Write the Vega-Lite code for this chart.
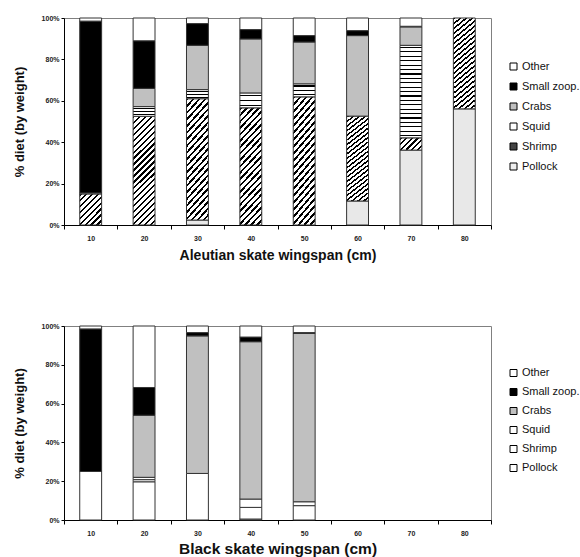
{
  "$schema": "https://vega.github.io/schema/vega-lite/v6.json",
  "padding": {"left": 12, "top": 13, "right": 0, "bottom": 0},
  "spacing": 58,
  "datasets": {
    "aleutian": [
      {"size": "10", "prey": "Shrimp", "pct": 15},
      {"size": "10", "prey": "Squid", "pct": 0.5},
      {"size": "10", "prey": "Small zoop.", "pct": 83},
      {"size": "10", "prey": "Other", "pct": 1.5},
      {"size": "20", "prey": "Shrimp", "pct": 52.5},
      {"size": "20", "prey": "Squid", "pct": 4.7},
      {"size": "20", "prey": "Crabs", "pct": 8.8},
      {"size": "20", "prey": "Small zoop.", "pct": 23},
      {"size": "20", "prey": "Other", "pct": 11},
      {"size": "30", "prey": "Pollock", "pct": 2.4},
      {"size": "30", "prey": "Shrimp", "pct": 58.6},
      {"size": "30", "prey": "Squid", "pct": 4.4},
      {"size": "30", "prey": "Crabs", "pct": 21.4},
      {"size": "30", "prey": "Small zoop.", "pct": 10.5},
      {"size": "30", "prey": "Other", "pct": 2.7},
      {"size": "40", "prey": "Shrimp", "pct": 56.6},
      {"size": "40", "prey": "Squid", "pct": 7.2},
      {"size": "40", "prey": "Crabs", "pct": 26.1},
      {"size": "40", "prey": "Small zoop.", "pct": 4.5},
      {"size": "40", "prey": "Other", "pct": 5.6},
      {"size": "50", "prey": "Shrimp", "pct": 61.9},
      {"size": "50", "prey": "Squid", "pct": 6.3},
      {"size": "50", "prey": "Crabs", "pct": 20.2},
      {"size": "50", "prey": "Small zoop.", "pct": 3.1},
      {"size": "50", "prey": "Other", "pct": 8.5},
      {"size": "60", "prey": "Pollock", "pct": 11.6},
      {"size": "60", "prey": "Shrimp", "pct": 41},
      {"size": "60", "prey": "Crabs", "pct": 38.9},
      {"size": "60", "prey": "Small zoop.", "pct": 2.4},
      {"size": "60", "prey": "Other", "pct": 6.1},
      {"size": "70", "prey": "Pollock", "pct": 36.2},
      {"size": "70", "prey": "Shrimp", "pct": 5.9},
      {"size": "70", "prey": "Squid", "pct": 44.7},
      {"size": "70", "prey": "Crabs", "pct": 8.9},
      {"size": "70", "prey": "Small zoop.", "pct": 0.3},
      {"size": "70", "prey": "Other", "pct": 4.0},
      {"size": "80", "prey": "Pollock", "pct": 56.1},
      {"size": "80", "prey": "Shrimp", "pct": 43.9}
    ],
    "black": [
      {"size": "10", "prey": "Pollock", "pct": 25},
      {"size": "10", "prey": "Small zoop.", "pct": 73.5},
      {"size": "10", "prey": "Other", "pct": 1.5},
      {"size": "20", "prey": "Pollock", "pct": 19.7},
      {"size": "20", "prey": "Shrimp", "pct": 1.1},
      {"size": "20", "prey": "Squid", "pct": 1.2},
      {"size": "20", "prey": "Crabs", "pct": 32},
      {"size": "20", "prey": "Small zoop.", "pct": 14.3},
      {"size": "20", "prey": "Other", "pct": 31.7},
      {"size": "30", "prey": "Pollock", "pct": 24},
      {"size": "30", "prey": "Crabs", "pct": 70.9},
      {"size": "30", "prey": "Small zoop.", "pct": 1.7},
      {"size": "30", "prey": "Other", "pct": 3.4},
      {"size": "40", "prey": "Pollock", "pct": 0.5},
      {"size": "40", "prey": "Shrimp", "pct": 6},
      {"size": "40", "prey": "Squid", "pct": 4.3},
      {"size": "40", "prey": "Crabs", "pct": 81.1},
      {"size": "40", "prey": "Small zoop.", "pct": 2.4},
      {"size": "40", "prey": "Other", "pct": 5.7},
      {"size": "50", "prey": "Pollock", "pct": 7.4},
      {"size": "50", "prey": "Shrimp", "pct": 2},
      {"size": "50", "prey": "Crabs", "pct": 86.8},
      {"size": "50", "prey": "Small zoop.", "pct": 0.4},
      {"size": "50", "prey": "Other", "pct": 3.4}
    ]
  },
  "vconcat": [
    {
      "width": 427,
      "height": 207,
      "data": {"name": "aleutian"},
      "transform": [
        {"calculate": "indexof(['Pollock','Shrimp','Squid','Crabs','Small zoop.','Other'], datum.prey)", "as": "k"}
      ],
      "mark": {"type": "bar", "width": {"band": 0.41}, "stroke": "#333", "strokeWidth": 1},
      "encoding": {
        "x": {
          "field": "size", "type": "ordinal",
          "scale": {"domain": ["10","20","30","40","50","60","70","80"], "paddingInner": 0, "paddingOuter": 0},
          "axis": {"title": "Aleutian skate wingspan (cm)", "titleFontSize": 14, "titlePadding": 7, "labelPadding": 5, "tickSize": 4, "labelAngle": 0, "tickBand": "extent"}
        },
        "y": {
          "field": "pct", "type": "quantitative", "stack": "normalize",
          "scale": {"domain": [0, 1]},
          "axis": {"title": "% diet (by weight)", "titleFontSize": 13, "titlePadding": 15, "values": [0, 0.2, 0.4, 0.6, 0.8, 1], "format": ".0%", "tickSize": 3, "labelPadding": 2}
        },
        "order": {"field": "k", "type": "quantitative"},
        "fill": {
          "field": "prey", "type": "nominal",
          "scale": {
            "domain": ["Other", "Small zoop.", "Crabs", "Squid", "Shrimp", "Pollock"],
            "range": ["#ffffff", "#000000", "#c0c0c0", "#ffffff", "#444444", "#eeeeee"]
          },
          "legend": {"legendX": 444, "legendY": 43, "rowPadding": 8, "labelOffset": 3},
          "condition": [
            {"test": "datum.prey === 'Pollock'", "value": "#e8e8e8"},
            {"test": "datum.prey === 'Shrimp' && datum.pct >= 30", "value": {"gradient": "linear", "x1": 0, "y1": 0, "x2": 0.231, "y2": 1.154, "stops": [
              {"offset": 0, "color": "#000"}, {"offset": 0.0182, "color": "#000"}, {"offset": 0.0182, "color": "#fff"}, {"offset": 0.0455, "color": "#fff"},
              {"offset": 0.0455, "color": "#000"}, {"offset": 0.0636, "color": "#000"}, {"offset": 0.0636, "color": "#fff"}, {"offset": 0.0909, "color": "#fff"},
              {"offset": 0.0909, "color": "#000"}, {"offset": 0.1091, "color": "#000"}, {"offset": 0.1091, "color": "#fff"}, {"offset": 0.1364, "color": "#fff"},
              {"offset": 0.1364, "color": "#000"}, {"offset": 0.1545, "color": "#000"}, {"offset": 0.1545, "color": "#fff"}, {"offset": 0.1818, "color": "#fff"},
              {"offset": 0.1818, "color": "#000"}, {"offset": 0.2, "color": "#000"}, {"offset": 0.2, "color": "#fff"}, {"offset": 0.2273, "color": "#fff"},
              {"offset": 0.2273, "color": "#000"}, {"offset": 0.2455, "color": "#000"}, {"offset": 0.2455, "color": "#fff"}, {"offset": 0.2727, "color": "#fff"},
              {"offset": 0.2727, "color": "#000"}, {"offset": 0.2909, "color": "#000"}, {"offset": 0.2909, "color": "#fff"}, {"offset": 0.3182, "color": "#fff"},
              {"offset": 0.3182, "color": "#000"}, {"offset": 0.3364, "color": "#000"}, {"offset": 0.3364, "color": "#fff"}, {"offset": 0.3636, "color": "#fff"},
              {"offset": 0.3636, "color": "#000"}, {"offset": 0.3818, "color": "#000"}, {"offset": 0.3818, "color": "#fff"}, {"offset": 0.4091, "color": "#fff"},
              {"offset": 0.4091, "color": "#000"}, {"offset": 0.4273, "color": "#000"}, {"offset": 0.4273, "color": "#fff"}, {"offset": 0.4545, "color": "#fff"},
              {"offset": 0.4545, "color": "#000"}, {"offset": 0.4727, "color": "#000"}, {"offset": 0.4727, "color": "#fff"}, {"offset": 0.5, "color": "#fff"},
              {"offset": 0.5, "color": "#000"}, {"offset": 0.5182, "color": "#000"}, {"offset": 0.5182, "color": "#fff"}, {"offset": 0.5455, "color": "#fff"},
              {"offset": 0.5455, "color": "#000"}, {"offset": 0.5636, "color": "#000"}, {"offset": 0.5636, "color": "#fff"}, {"offset": 0.5909, "color": "#fff"},
              {"offset": 0.5909, "color": "#000"}, {"offset": 0.6091, "color": "#000"}, {"offset": 0.6091, "color": "#fff"}, {"offset": 0.6364, "color": "#fff"},
              {"offset": 0.6364, "color": "#000"}, {"offset": 0.6545, "color": "#000"}, {"offset": 0.6545, "color": "#fff"}, {"offset": 0.6818, "color": "#fff"},
              {"offset": 0.6818, "color": "#000"}, {"offset": 0.7, "color": "#000"}, {"offset": 0.7, "color": "#fff"}, {"offset": 0.7273, "color": "#fff"},
              {"offset": 0.7273, "color": "#000"}, {"offset": 0.7455, "color": "#000"}, {"offset": 0.7455, "color": "#fff"}, {"offset": 0.7727, "color": "#fff"},
              {"offset": 0.7727, "color": "#000"}, {"offset": 0.7909, "color": "#000"}, {"offset": 0.7909, "color": "#fff"}, {"offset": 0.8182, "color": "#fff"},
              {"offset": 0.8182, "color": "#000"}, {"offset": 0.8364, "color": "#000"}, {"offset": 0.8364, "color": "#fff"}, {"offset": 0.8636, "color": "#fff"},
              {"offset": 0.8636, "color": "#000"}, {"offset": 0.8818, "color": "#000"}, {"offset": 0.8818, "color": "#fff"}, {"offset": 0.9091, "color": "#fff"},
              {"offset": 0.9091, "color": "#000"}, {"offset": 0.9273, "color": "#000"}, {"offset": 0.9273, "color": "#fff"}, {"offset": 0.9545, "color": "#fff"},
              {"offset": 0.9545, "color": "#000"}, {"offset": 0.9727, "color": "#000"}, {"offset": 0.9727, "color": "#fff"}, {"offset": 1, "color": "#fff"}]}},
            {"test": "datum.prey === 'Shrimp' && datum.pct >= 10", "value": {"gradient": "linear", "x1": 0, "y1": 0, "x2": 0.81, "y2": 1.137, "stops": [
              {"offset": 0, "color": "#000"}, {"offset": 0.0444, "color": "#000"}, {"offset": 0.0444, "color": "#fff"}, {"offset": 0.1111, "color": "#fff"},
              {"offset": 0.1111, "color": "#000"}, {"offset": 0.1556, "color": "#000"}, {"offset": 0.1556, "color": "#fff"}, {"offset": 0.2222, "color": "#fff"},
              {"offset": 0.2222, "color": "#000"}, {"offset": 0.2667, "color": "#000"}, {"offset": 0.2667, "color": "#fff"}, {"offset": 0.3333, "color": "#fff"},
              {"offset": 0.3333, "color": "#000"}, {"offset": 0.3778, "color": "#000"}, {"offset": 0.3778, "color": "#fff"}, {"offset": 0.4444, "color": "#fff"},
              {"offset": 0.4444, "color": "#000"}, {"offset": 0.4889, "color": "#000"}, {"offset": 0.4889, "color": "#fff"}, {"offset": 0.5556, "color": "#fff"},
              {"offset": 0.5556, "color": "#000"}, {"offset": 0.6, "color": "#000"}, {"offset": 0.6, "color": "#fff"}, {"offset": 0.6667, "color": "#fff"},
              {"offset": 0.6667, "color": "#000"}, {"offset": 0.7111, "color": "#000"}, {"offset": 0.7111, "color": "#fff"}, {"offset": 0.7778, "color": "#fff"},
              {"offset": 0.7778, "color": "#000"}, {"offset": 0.8222, "color": "#000"}, {"offset": 0.8222, "color": "#fff"}, {"offset": 0.8889, "color": "#fff"},
              {"offset": 0.8889, "color": "#000"}, {"offset": 0.9333, "color": "#000"}, {"offset": 0.9333, "color": "#fff"}, {"offset": 1, "color": "#fff"}]}},
            {"test": "datum.prey === 'Shrimp'", "value": {"gradient": "linear", "x1": 0, "y1": 0, "x2": 1.19, "y2": 0.65, "stops": [
              {"offset": 0, "color": "#000"}, {"offset": 0.0667, "color": "#000"}, {"offset": 0.0667, "color": "#fff"}, {"offset": 0.1667, "color": "#fff"},
              {"offset": 0.1667, "color": "#000"}, {"offset": 0.2333, "color": "#000"}, {"offset": 0.2333, "color": "#fff"}, {"offset": 0.3333, "color": "#fff"},
              {"offset": 0.3333, "color": "#000"}, {"offset": 0.4, "color": "#000"}, {"offset": 0.4, "color": "#fff"}, {"offset": 0.5, "color": "#fff"},
              {"offset": 0.5, "color": "#000"}, {"offset": 0.5667, "color": "#000"}, {"offset": 0.5667, "color": "#fff"}, {"offset": 0.6667, "color": "#fff"},
              {"offset": 0.6667, "color": "#000"}, {"offset": 0.7333, "color": "#000"}, {"offset": 0.7333, "color": "#fff"}, {"offset": 0.8333, "color": "#fff"},
              {"offset": 0.8333, "color": "#000"}, {"offset": 0.9, "color": "#000"}, {"offset": 0.9, "color": "#fff"}, {"offset": 1, "color": "#fff"}]}},
            {"test": "datum.prey === 'Squid' && datum.pct >= 20", "value": {"gradient": "linear", "x1": 0, "y1": 0, "x2": 0, "y2": 1, "stops": [
              {"offset": 0, "color": "#fff"},
              {"offset": 0.0179, "color": "#fff"}, {"offset": 0.0179, "color": "#000"}, {"offset": 0.0298, "color": "#000"}, {"offset": 0.0298, "color": "#fff"},
              {"offset": 0.0655, "color": "#fff"}, {"offset": 0.0655, "color": "#000"}, {"offset": 0.0774, "color": "#000"}, {"offset": 0.0774, "color": "#fff"},
              {"offset": 0.1131, "color": "#fff"}, {"offset": 0.1131, "color": "#000"}, {"offset": 0.125, "color": "#000"}, {"offset": 0.125, "color": "#fff"},
              {"offset": 0.1607, "color": "#fff"}, {"offset": 0.1607, "color": "#000"}, {"offset": 0.1726, "color": "#000"}, {"offset": 0.1726, "color": "#fff"},
              {"offset": 0.2083, "color": "#fff"}, {"offset": 0.2083, "color": "#000"}, {"offset": 0.2202, "color": "#000"}, {"offset": 0.2202, "color": "#fff"},
              {"offset": 0.256, "color": "#fff"}, {"offset": 0.256, "color": "#000"}, {"offset": 0.2679, "color": "#000"}, {"offset": 0.2679, "color": "#fff"},
              {"offset": 0.3036, "color": "#fff"}, {"offset": 0.3036, "color": "#000"}, {"offset": 0.3155, "color": "#000"}, {"offset": 0.3155, "color": "#fff"},
              {"offset": 0.3512, "color": "#fff"}, {"offset": 0.3512, "color": "#000"}, {"offset": 0.3631, "color": "#000"}, {"offset": 0.3631, "color": "#fff"},
              {"offset": 0.3988, "color": "#fff"}, {"offset": 0.3988, "color": "#000"}, {"offset": 0.4107, "color": "#000"}, {"offset": 0.4107, "color": "#fff"},
              {"offset": 0.4464, "color": "#fff"}, {"offset": 0.4464, "color": "#000"}, {"offset": 0.4583, "color": "#000"}, {"offset": 0.4583, "color": "#fff"},
              {"offset": 0.494, "color": "#fff"}, {"offset": 0.494, "color": "#000"}, {"offset": 0.506, "color": "#000"}, {"offset": 0.506, "color": "#fff"},
              {"offset": 0.5417, "color": "#fff"}, {"offset": 0.5417, "color": "#000"}, {"offset": 0.5536, "color": "#000"}, {"offset": 0.5536, "color": "#fff"},
              {"offset": 0.5893, "color": "#fff"}, {"offset": 0.5893, "color": "#000"}, {"offset": 0.6012, "color": "#000"}, {"offset": 0.6012, "color": "#fff"},
              {"offset": 0.6369, "color": "#fff"}, {"offset": 0.6369, "color": "#000"}, {"offset": 0.6488, "color": "#000"}, {"offset": 0.6488, "color": "#fff"},
              {"offset": 0.6845, "color": "#fff"}, {"offset": 0.6845, "color": "#000"}, {"offset": 0.6964, "color": "#000"}, {"offset": 0.6964, "color": "#fff"},
              {"offset": 0.7321, "color": "#fff"}, {"offset": 0.7321, "color": "#000"}, {"offset": 0.744, "color": "#000"}, {"offset": 0.744, "color": "#fff"},
              {"offset": 0.7798, "color": "#fff"}, {"offset": 0.7798, "color": "#000"}, {"offset": 0.7917, "color": "#000"}, {"offset": 0.7917, "color": "#fff"},
              {"offset": 0.8274, "color": "#fff"}, {"offset": 0.8274, "color": "#000"}, {"offset": 0.8393, "color": "#000"}, {"offset": 0.8393, "color": "#fff"},
              {"offset": 0.875, "color": "#fff"}, {"offset": 0.875, "color": "#000"}, {"offset": 0.8869, "color": "#000"}, {"offset": 0.8869, "color": "#fff"},
              {"offset": 0.9226, "color": "#fff"}, {"offset": 0.9226, "color": "#000"}, {"offset": 0.9345, "color": "#000"}, {"offset": 0.9345, "color": "#fff"},
              {"offset": 0.9702, "color": "#fff"}, {"offset": 0.9702, "color": "#000"}, {"offset": 0.9821, "color": "#000"}, {"offset": 0.9821, "color": "#fff"},
              {"offset": 1, "color": "#fff"}]}},
            {"test": "datum.prey === 'Squid'", "value": {"gradient": "linear", "x1": 0, "y1": 0, "x2": 0, "y2": 1, "stops": [
              {"offset": 0, "color": "#fff"},
              {"offset": 0.1167, "color": "#fff"}, {"offset": 0.1167, "color": "#000"}, {"offset": 0.2167, "color": "#000"}, {"offset": 0.2167, "color": "#fff"},
              {"offset": 0.45, "color": "#fff"}, {"offset": 0.45, "color": "#000"}, {"offset": 0.55, "color": "#000"}, {"offset": 0.55, "color": "#fff"},
              {"offset": 0.7833, "color": "#fff"}, {"offset": 0.7833, "color": "#000"}, {"offset": 0.8833, "color": "#000"}, {"offset": 0.8833, "color": "#fff"},
              {"offset": 1, "color": "#fff"}]}}
          ]
        }
      }
    },
    {
      "width": 427,
      "height": 194,
      "data": {"name": "black"},
      "transform": [
        {"calculate": "indexof(['Pollock','Shrimp','Squid','Crabs','Small zoop.','Other'], datum.prey)", "as": "k"}
      ],
      "mark": {"type": "bar", "width": {"band": 0.41}, "stroke": "#333", "strokeWidth": 1},
      "encoding": {
        "x": {
          "field": "size", "type": "ordinal",
          "scale": {"domain": ["10","20","30","40","50","60","70","80"], "paddingInner": 0, "paddingOuter": 0},
          "axis": {"title": "Black skate wingspan (cm)", "titleFontSize": 15.5, "titlePadding": 5, "labelPadding": 5, "tickSize": 4, "labelAngle": 0, "tickBand": "extent"}
        },
        "y": {
          "field": "pct", "type": "quantitative", "stack": "normalize",
          "scale": {"domain": [0, 1]},
          "axis": {"title": "% diet (by weight)", "titleFontSize": 13, "titlePadding": 15, "values": [0, 0.2, 0.4, 0.6, 0.8, 1], "format": ".0%", "tickSize": 3, "labelPadding": 2}
        },
        "order": {"field": "k", "type": "quantitative"},
        "fill": {
          "field": "prey", "type": "nominal",
          "scale": {
            "domain": ["Other", "Small zoop.", "Crabs", "Squid", "Shrimp", "Pollock"],
            "range": ["#ffffff", "#000000", "#c0c0c0", "#ffffff", "#ffffff", "#ffffff"]
          },
          "legend": {"legendX": 444, "legendY": 41.5, "rowPadding": 7, "labelOffset": 3}
        }
      }
    }
  ],
  "resolve": {"scale": {"fill": "independent", "x": "independent", "y": "independent"}, "legend": {"fill": "independent"}},
  "config": {
    "font": "Liberation Sans",
    "view": {"stroke": "#808080", "strokeWidth": 1},
    "axis": {
      "grid": false, "domainColor": "#000", "tickColor": "#000", "domainWidth": 1, "tickWidth": 1,
      "labelFont": "Liberation Sans", "labelFontSize": 7, "labelFontWeight": "bold", "labelColor": "#222",
      "titleFont": "Liberation Sans", "titleFontWeight": "bold", "titleColor": "#111"
    },
    "legend": {
      "orient": "none", "title": null, "padding": 0,
      "labelFont": "Liberation Sans", "labelFontSize": 11, "labelColor": "#111", "labelOffset": 4,
      "symbolType": "square", "symbolSize": 49, "symbolStrokeColor": "#000", "symbolStrokeWidth": 1, "symbolOpacity": 1
    }
  }
}
